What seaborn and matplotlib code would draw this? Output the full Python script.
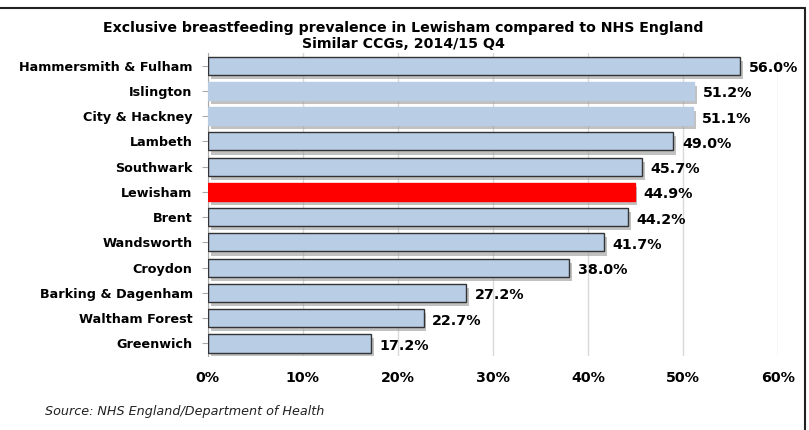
import matplotlib
matplotlib.use("Agg")
import matplotlib.pyplot as plt
import matplotlib.patheffects as pe
from matplotlib.lines import Line2D
import seaborn as sns
import pandas as pd

categories = ["Hammersmith & Fulham", "Islington", "City & Hackney", "Lambeth",
              "Southwark", "Lewisham", "Brent", "Wandsworth", "Croydon",
              "Barking & Dagenham", "Waltham Forest", "Greenwich"]
values = [56.0, 51.2, 51.1, 49.0, 45.7, 44.9, 44.2, 41.7, 38.0, 27.2, 22.7, 17.2]
x_ticks = [0, 10, 20, 30, 40, 50, 60]
x_tick_labels = ["0%", "10%", "20%", "30%", "40%", "50%", "60%"]
highlight = "Lewisham"
no_edge = ["Islington", "City & Hackney", "Lewisham"]

sns.set_style("white")
plt.rcParams['font.family'] = ['DejaVu Sans']
plt.rcParams['text.color'] = 'black'
plt.rcParams['xtick.color'] = 'black'
plt.rcParams['ytick.color'] = 'black'

df = pd.DataFrame({"ccg": categories, "value": values})
colors = {c: ("#FF0000" if c == highlight else "#B9CDE5") for c in categories}

fig = plt.figure(figsize=(8.09, 4.30), dpi=100)
ax = fig.add_axes([0.257, 0.172, 0.9617 - 0.257, 0.8767 - 0.172])

sns.barplot(data=df, y="ccg", x="value", hue="ccg", palette=colors, saturation=1,
            order=categories, orient="h", width=0.72, legend=False, ax=ax,
            edgecolor="#333333", linewidth=1.0, zorder=3)

for p, c in zip(ax.patches, categories):
    if c in no_edge:
        p.set_edgecolor(p.get_facecolor())
    p.set_path_effects([pe.SimplePatchShadow(offset=(2, -3), shadow_rgbFace="#999999", alpha=0.6),
                        pe.Normal()])

for i, v in enumerate(values):
    ax.text(v + 0.9, i + 0.1, f"{v:.1f}%", va="center", ha="left",
            fontsize=10.3, fontweight="bold", color="black")

ax.set_xlim(0, 60)
ax.set_ylim(len(categories) - 0.5, -0.5)
ax.set_xticks(x_ticks)
ax.set_xticklabels(x_tick_labels, fontsize=10.3, fontweight="bold")
ax.tick_params(axis="x", length=0, pad=11)
ax.tick_params(axis="y", length=4, width=0.8, color="#AAAAAA", left=True, pad=7)
for lab in ax.get_yticklabels():
    lab.set_fontweight("bold")
    lab.set_fontsize(9.2)
ax.set_xlabel("")
ax.set_ylabel("")
ax.grid(axis="x", color="#D9D9D9", linewidth=1.0, zorder=0)
ax.set_axisbelow(True)
for s in ["top", "right", "bottom"]:
    ax.spines[s].set_visible(False)
ax.spines["left"].set_color("#AAAAAA")
ax.spines["left"].set_linewidth(0.8)

fig.text(0.499, 0.917, "Exclusive breastfeeding prevalence in Lewisham compared to NHS England\nSimilar CCGs, 2014/15 Q4",
         ha="center", va="center", fontsize=10.2, fontweight="bold", linespacing=1.2)
fig.text(0.056, 0.042, "Source: NHS England/Department of Health", ha="left", va="center",
         fontsize=9.2, fontstyle="italic", color="#222222")

# frame lines (top and right)
fig.add_artist(Line2D([0, 0.995], [0.981, 0.981], transform=fig.transFigure, color="#222222", linewidth=1.5))
fig.add_artist(Line2D([0.995, 0.995], [0.981, 0.0], transform=fig.transFigure, color="#222222", linewidth=1.5))

fig.savefig("out.png", dpi=100)
